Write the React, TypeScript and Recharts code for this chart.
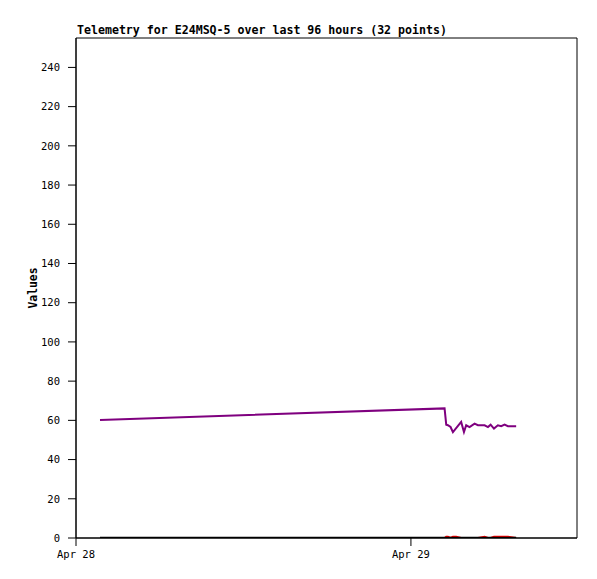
import { Label, Line, LineChart, ReferenceArea, XAxis, YAxis } from 'recharts';

// hours since Apr 28 00:00
const hours: number[] = [
  1.72, 26.41, 26.53, 26.65, 26.84, 27.01, 27.24, 27.6, 27.8, 27.96, 28.2,
  28.56, 28.8, 29.28, 29.52, 29.71, 29.95, 30.23, 30.47, 30.71, 30.95, 31.54,
];
const purpleValues: number[] = [
  60.2, 66.1, 57.8, 57.5, 56.6, 54, 56, 59.2, 54, 57.5, 56.6, 58.3, 57.5, 57.5,
  56.6, 57.8, 55.8, 57.5, 57, 57.8, 57, 57,
];
const redValues: number[] = [
  0, 0, 0.6, 0.6, 0, 0.6, 0.6, 0, 0, 0, 0, 0, 0, 0.6, 0, 0, 0.6, 0.6, 0.6, 0.6, 0.6, 0,
];
const blackValues: number[] = hours.map(() => 0);

const xDomain: [number, number] = [0, 35.9];
const yDomain: [number, number] = [0, 255];
const xTickHours: number[] = [0, 24];
const xTickLabels: string[] = ['Apr 28', 'Apr 29'];
const yTicks: number[] = [0, 20, 40, 60, 80, 100, 120, 140, 160, 180, 200, 220, 240];

const data = hours.map((t, i) => ({
  t,
  purple: purpleValues[i],
  red: redValues[i],
  black: blackValues[i],
}));

const FONT = '"DejaVu Sans Mono", monospace';

export default function App() {
  return (
    <div style={{ position: 'absolute', top: 0, left: 0, width: 597, height: 579, background: '#fff' }}>
      <div
        style={{
          position: 'absolute',
          top: 24,
          left: 77,
          fontFamily: FONT,
          fontWeight: 'bold',
          fontSize: 11.6,
          lineHeight: '12px',
          whiteSpace: 'nowrap',
          color: '#000',
        }}
      >
        Telemetry for E24MSQ-5 over last 96 hours (32 points)
      </div>
      <LineChart
        width={597}
        height={579}
        data={data}
        margin={{ top: 38, right: 20, bottom: 11, left: 26 }}
      >
        <XAxis
          dataKey="t"
          type="number"
          domain={xDomain}
          ticks={xTickHours}
          tickFormatter={(v: number) => xTickLabels[xTickHours.indexOf(v)] ?? ''}
          height={30}
          tickSize={8}
          tickMargin={5}
          stroke="#000"
          tick={{ fill: '#000', fontFamily: FONT, fontSize: 10.5 }}
          allowDataOverflow
        />
        <YAxis
          domain={yDomain}
          ticks={yTicks}
          width={50}
          tickSize={8}
          tickMargin={8}
          stroke="#000"
          tick={{ fill: '#000', fontFamily: FONT, fontSize: 10.5 }}
          allowDataOverflow
        >
          <Label
            content={() => (
              <text
                x={33}
                y={288}
                transform="rotate(-90 33 288)"
                textAnchor="middle"
                dominantBaseline="central"
                fontFamily={FONT}
                fontWeight="bold"
                fontSize={11.4}
                fill="#000"
              >
                Values
              </text>
            )}
          />
        </YAxis>
        <ReferenceArea
          x1={xDomain[0]}
          x2={xDomain[1]}
          y1={yDomain[0]}
          y2={yDomain[1]}
          fill="none"
          stroke="#000"
          strokeWidth={1}
          ifOverflow="visible"
        />
        <Line
          type="linear"
          dataKey="red"
          stroke="#ff0000"
          strokeWidth={2}
          dot={false}
          isAnimationActive={false}
        />
        <Line
          type="linear"
          dataKey="black"
          stroke="#000000"
          strokeWidth={2.5}
          dot={false}
          isAnimationActive={false}
        />
        <Line
          type="linear"
          dataKey="purple"
          stroke="#7f007f"
          strokeWidth={2}
          dot={false}
          isAnimationActive={false}
        />
      </LineChart>
    </div>
  );
}
